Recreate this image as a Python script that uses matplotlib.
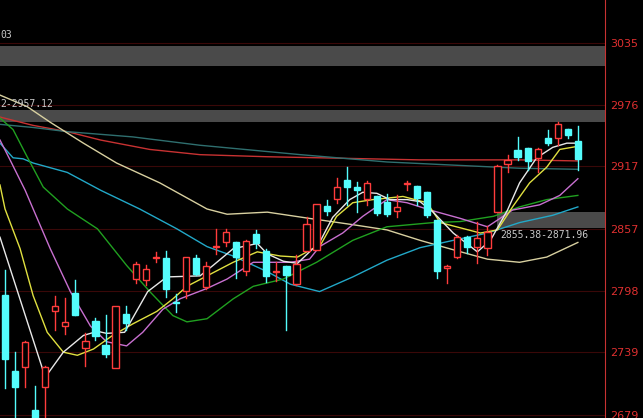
import matplotlib
matplotlib.use('Agg')
import matplotlib.pyplot as plt
from matplotlib.patches import Rectangle

# candles: open, high, low, close
opens  = [2794, 2721, 2725, 2684, 2706, 2778, 2764, 2796, 2743, 2769,
          2746, 2724, 2776, 2809, 2808, 2829, 2829, 2787, 2798, 2829,
          2801, 2840, 2844, 2844, 2817, 2852, 2836, 2816, 2821, 2804,
          2836, 2837, 2879, 2886, 2904, 2897, 2886, 2888, 2883, 2874,
          2900, 2898, 2892, 2865, 2820, 2830, 2849, 2840, 2839, 2873,
          2919, 2932, 2934, 2925, 2944, 2944, 2953, 2941]
highs  = [2818, 2739, 2750, 2707, 2726, 2793, 2791, 2808, 2757, 2772,
          2775, 2783, 2783, 2825, 2822, 2835, 2836, 2795, 2830, 2832,
          2825, 2857, 2857, 2844, 2846, 2856, 2838, 2825, 2821, 2832,
          2868, 2881, 2885, 2906, 2916, 2902, 2903, 2888, 2890, 2889,
          2903, 2898, 2892, 2865, 2822, 2851, 2850, 2864, 2860, 2918,
          2928, 2945, 2934, 2934, 2952, 2959, 2953, 2955]
lows   = [2705, 2665, 2706, 2665, 2665, 2760, 2756, 2775, 2726, 2751,
          2734, 2724, 2760, 2805, 2803, 2825, 2792, 2777, 2791, 2813,
          2799, 2833, 2841, 2810, 2813, 2839, 2806, 2807, 2760, 2803,
          2836, 2837, 2870, 2882, 2880, 2873, 2880, 2870, 2869, 2868,
          2894, 2880, 2868, 2810, 2805, 2829, 2834, 2824, 2832, 2873,
          2911, 2923, 2913, 2911, 2937, 2937, 2944, 2913]
closes = [2732, 2706, 2749, 2676, 2725, 2783, 2768, 2775, 2750, 2754,
          2737, 2783, 2767, 2823, 2819, 2830, 2799, 2786, 2830, 2814,
          2821, 2841, 2854, 2830, 2845, 2843, 2812, 2817, 2813, 2823,
          2862, 2881, 2874, 2897, 2897, 2894, 2901, 2872, 2871, 2878,
          2901, 2887, 2870, 2817, 2821, 2849, 2840, 2848, 2854, 2917,
          2923, 2926, 2922, 2933, 2939, 2957, 2947, 2924]

# moving averages as (bar position, price) points
ma_white_x = [-0.5, 4, 5.8, 7.8, 9.2, 10.1, 11.9, 14.2, 16.1, 19.4, 20.7, 22.7, 25.1, 26.1, 27.7, 29.1,
              30.3, 31.3, 32.6, 34.3, 35.6, 37.0, 38.3, 40.0, 41.3, 42.6, 44.6, 47.0, 48.3, 50.0,
              51.2, 52.9, 54.5, 55.9, 57]
ma_white_y = [2849, 2715, 2739, 2755, 2759, 2757, 2758, 2797, 2811, 2812, 2822, 2838, 2843, 2833, 2826, 2824,
              2835, 2844, 2868, 2885, 2892, 2891, 2885, 2885, 2883, 2873, 2853, 2835, 2846, 2875,
              2901, 2925, 2935, 2939, 2939]
ma_yellow_x = [-0.5, 0, 1.5, 2.8, 4.2, 5.8, 7.2, 8.8, 10.7, 12.7, 15.1, 16.7, 18.1, 20.1, 22.7, 25.1,
               27.4, 29.1, 30.6, 31.3, 33.0, 34.6, 36.6, 39.6, 42.0, 43.3, 45.3, 47.3, 49.0, 50.5,
               52.2, 53.9, 55.2, 57]
ma_yellow_y = [2899, 2876, 2838, 2793, 2758, 2739, 2736, 2742, 2755, 2766, 2778, 2790, 2802, 2812, 2825, 2835,
               2831, 2830, 2838, 2840, 2869, 2882, 2885, 2888, 2882, 2863, 2858, 2853, 2856, 2878,
               2901, 2916, 2933, 2936]
ma_pink_x = [-0.5, 0.5, 2, 2.8, 4.5, 6.5, 8.5, 10.1, 12.1, 13.7, 15.7, 17.4, 20.1, 22.1, 24.7, 26.7,
             28.4, 30.3, 31.3, 33.6, 35.6, 38.0, 40.0, 42.3, 45.3, 48.0, 50.5, 53.2, 55.2, 57]
ma_pink_y = [2942, 2923, 2894, 2876, 2838, 2797, 2764, 2749, 2745, 2758, 2780, 2790, 2800, 2809, 2825, 2825,
             2825, 2828, 2840, 2853, 2869, 2885, 2882, 2875, 2867, 2859, 2875, 2880, 2889, 2905]
ma_green_x = [-0.5, 0.8, 2.2, 3.8, 6.2, 9.2, 12.1, 14.4, 16.7, 18.1, 20.1, 22.7, 24.7, 27.7, 31.0,
              34.6, 38.0, 42.6, 45.3, 48.6, 51.2, 53.9, 57]
ma_green_y = [2963, 2952, 2926, 2897, 2876, 2857, 2822, 2797, 2774, 2768, 2771, 2790, 2802, 2809, 2825,
              2846, 2859, 2863, 2864, 2869, 2878, 2885, 2889]
ma_cyan_x = [-0.5, 0.8, 1.8, 2.8, 6.2, 9.5, 13.4, 17.1, 20.1, 22.7, 26.1, 28.4, 31.3, 34.6, 38.0,
             41.3, 44.6, 48.0, 51.2, 54.5, 57]
ma_cyan_y = [2939, 2925, 2924, 2920, 2911, 2894, 2876, 2857, 2840, 2831, 2816, 2804, 2797, 2811, 2827,
             2839, 2846, 2853, 2863, 2870, 2878]
ma_beige_x = [-0.5, 2.2, 4.5, 7.8, 11.1, 15.4, 20.1, 22.1, 26.1, 30.3, 34.6, 38.0, 41.3, 44.6, 48.0,
              51.2, 53.9, 57]
ma_beige_y = [2985, 2974, 2959, 2939, 2920, 2901, 2876, 2871, 2873, 2867, 2861, 2856, 2846, 2837, 2828,
              2825, 2830, 2844]
ma_red_x = [-0.5, 2.8, 6.2, 9.5, 14.4, 19.4, 26.1, 31.3, 41.3, 51.2, 57]
ma_red_y = [2964, 2956, 2950, 2942, 2933, 2928, 2926, 2925, 2923, 2923, 2922]
ma_teal_x = [-0.5, 2.8, 6.2, 12.7, 19.4, 29.4, 38.0, 44.6, 51.2, 57]
ma_teal_y = [2957, 2954, 2950, 2945, 2937, 2928, 2921, 2918, 2915, 2914]

y_ticks = [3035, 2976, 2917, 2857, 2798, 2739, 2679]

# gray zones: (start bar, low, high)
zones = [(-0.5, 3013, 3032), (-0.5, 2959, 2971), (49.0, 2858, 2873)]

fig = plt.figure(figsize=(6.43, 4.18), dpi=100, facecolor='black')
ax = fig.add_axes([0, 0, 605 / 643, 1])
ax.set_facecolor('black')
xmax = 59.7
ax.set_xlim(-0.5, xmax)
ax.set_ylim(2676, 3076)

for t in y_ticks:
    ax.axhline(t, color='#3a0808', lw=0.8, zorder=0)

for x0, lo, hi in zones:
    ax.add_patch(Rectangle((x0, lo), xmax - x0, hi - lo, color='#4a4a4a', zorder=1, lw=0))

lines = [(ma_red_x, ma_red_y, '#c83232'), (ma_teal_x, ma_teal_y, '#2f6f6f'),
         (ma_beige_x, ma_beige_y, '#d8d0a0'), (ma_cyan_x, ma_cyan_y, '#22a8c8'),
         (ma_green_x, ma_green_y, '#20a020'), (ma_pink_x, ma_pink_y, '#c870d0'),
         (ma_yellow_x, ma_yellow_y, '#e0e040'), (ma_white_x, ma_white_y, '#e8e8e8')]
for xs, ys, c in lines:
    ax.plot(xs, ys, color=c, lw=1, zorder=2)

w = 0.62
for i, (o, h, l, c) in enumerate(zip(opens, highs, lows, closes)):
    if c >= o:
        col = '#ff3c3c'
        ax.plot([i, i], [l, o], color=col, lw=1, zorder=3)
        ax.plot([i, i], [c, h], color=col, lw=1, zorder=3)
        ax.add_patch(Rectangle((i - w / 2, o), w, max(c - o, 0.8), facecolor='black',
                               edgecolor=col, lw=1, zorder=3))
    else:
        col = '#54fcfc'
        ax.plot([i, i], [l, h], color=col, lw=1, zorder=3)
        ax.add_patch(Rectangle((i - w / 2, c), w, o - c, facecolor=col,
                               edgecolor=col, lw=1, zorder=4))

ax.text(-0.5, 3040, '03', color='#c8c8c8', fontsize=7, family='DejaVu Sans Mono')
ax.text(-0.5, 2974, '2-2957.12', color='#c8c8c8', fontsize=7, family='DejaVu Sans Mono')
ax.text(49.3, 2848, '2855.38-2871.96', color='#c8c8c8', fontsize=7, family='DejaVu Sans Mono')

for s in ['top', 'left', 'bottom']:
    ax.spines[s].set_visible(False)
ax.spines['right'].set_color('#c83232')
ax.set_xticks([])
ax.yaxis.tick_right()
ax.set_yticks(y_ticks)
ax.tick_params(axis='y', length=0, pad=4, labelcolor='#e03030', labelsize=8)

fig.savefig('out.png', dpi=100, facecolor='black')
